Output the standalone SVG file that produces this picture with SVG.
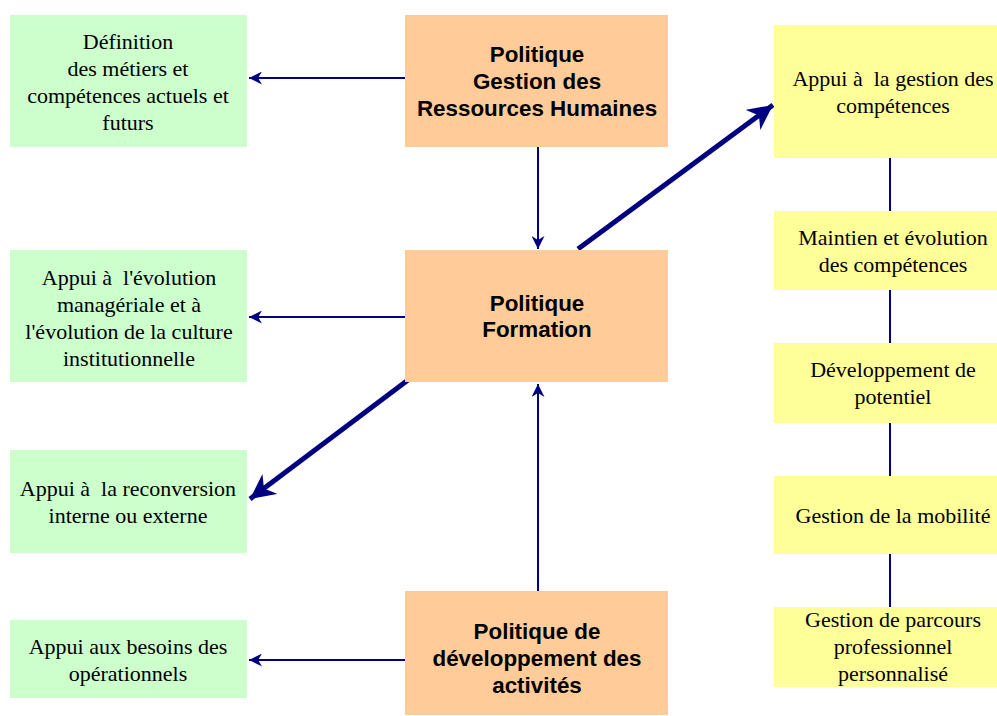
<svg xmlns="http://www.w3.org/2000/svg" width="997" height="716" viewBox="0 0 997 716">
<style>
.g{fill:#ccffcc}
.o{fill:#ffcc99}
.y{fill:#ffff99}
.t{font-family:"Liberation Serif",serif;font-size:22px;fill:#000;text-anchor:middle}
.b{font-family:"Liberation Sans",Arial,sans-serif;font-size:22.4px;font-weight:bold;fill:#000;text-anchor:middle}
.l{stroke:#000080;stroke-width:2;fill:none}
.k{stroke:#000080;stroke-width:5;fill:none}
</style>
<defs>
<marker id="a" viewBox="0 0 10 10" refX="10" refY="5" markerWidth="13" markerHeight="13" markerUnits="userSpaceOnUse" orient="auto"><path d="M0,0 L10,5 L0,10 L3,5 Z" fill="#000080"/></marker>
<marker id="ak" viewBox="0 0 10 10" refX="10" refY="5" markerWidth="5" markerHeight="5" orient="auto"><path d="M0,0 L10,5 L0,10 L3,5 Z" fill="#000080"/></marker>
</defs>
<rect width="997" height="716" fill="#fff"/>
<g id="connectors">
<line class="l" x1="405" y1="78" x2="249" y2="78" marker-end="url(#a)"/>
<line class="l" x1="538" y1="147" x2="538" y2="249" marker-end="url(#a)"/>
<line class="l" x1="405" y1="317" x2="249" y2="317" marker-end="url(#a)"/>
<line class="k" x1="408" y1="380" x2="250" y2="499" marker-end="url(#ak)"/>
<line class="l" x1="538" y1="591" x2="538" y2="384" marker-end="url(#a)"/>
<line class="l" x1="405" y1="660" x2="249" y2="660" marker-end="url(#a)"/>
<line class="k" x1="578" y1="249" x2="773" y2="105" marker-end="url(#ak)"/>
<line class="l" x1="890" y1="158" x2="890" y2="211"/>
<line class="l" x1="890" y1="290" x2="890" y2="343"/>
<line class="l" x1="890" y1="423" x2="890" y2="476"/>
<line class="l" x1="890" y1="554" x2="890" y2="607"/>
</g>
<g id="g1"><rect class="g" x="10" y="15" width="237" height="132"/>
<text class="t"><tspan x="128" y="49">Définition</tspan><tspan x="128" y="76">des métiers et</tspan><tspan x="128" y="103">compétences actuels et</tspan><tspan x="128" y="130">futurs</tspan></text></g>
<g id="g2"><rect class="g" x="10" y="250" width="237" height="132"/>
<text class="t"><tspan x="129" y="285">Appui à&#160; l'évolution</tspan><tspan x="129" y="312">managériale et à</tspan><tspan x="129" y="339">l'évolution de la culture</tspan><tspan x="129" y="366">institutionnelle</tspan></text></g>
<g id="g3"><rect class="g" x="10" y="450" width="237" height="103"/>
<text class="t"><tspan x="128" y="496">Appui à&#160; la reconversion</tspan><tspan x="128" y="523">interne ou externe</tspan></text></g>
<g id="g4"><rect class="g" x="10" y="620" width="237" height="78"/>
<text class="t"><tspan x="128" y="654">Appui aux besoins des</tspan><tspan x="128" y="681">opérationnels</tspan></text></g>
<g id="o1"><rect class="o" x="405" y="15" width="263" height="132"/>
<text class="b"><tspan x="537" y="62">Politique</tspan><tspan x="537" y="89">Gestion des</tspan><tspan x="537" y="116">Ressources Humaines</tspan></text></g>
<g id="o2"><rect class="o" x="405" y="250" width="263" height="132"/>
<text class="b"><tspan x="537" y="311">Politique</tspan><tspan x="537" y="337">Formation</tspan></text></g>
<g id="o3"><rect class="o" x="405" y="591" width="263" height="124"/>
<text class="b"><tspan x="537" y="639">Politique de</tspan><tspan x="537" y="666">développement des</tspan><tspan x="537" y="693">activités</tspan></text></g>
<g id="y1"><rect class="y" x="774" y="25" width="223" height="133"/>
<text class="t"><tspan x="893" y="86">Appui à&#160; la gestion des</tspan><tspan x="893" y="113">compétences</tspan></text></g>
<g id="y2"><rect class="y" x="774" y="211" width="223" height="79"/>
<text class="t"><tspan x="893" y="245">Maintien et évolution</tspan><tspan x="893" y="272">des compétences</tspan></text></g>
<g id="y3"><rect class="y" x="774" y="343" width="223" height="80"/>
<text class="t"><tspan x="893" y="377">Développement de</tspan><tspan x="893" y="404">potentiel</tspan></text></g>
<g id="y4"><rect class="y" x="774" y="476" width="223" height="78"/>
<text class="t"><tspan x="893" y="523">Gestion de la mobilité</tspan></text></g>
<g id="y5"><rect class="y" x="774" y="607" width="223" height="80"/>
<text class="t"><tspan x="893" y="627">Gestion de parcours</tspan><tspan x="893" y="654">professionnel</tspan><tspan x="893" y="681">personnalisé</tspan></text></g>
</svg>
